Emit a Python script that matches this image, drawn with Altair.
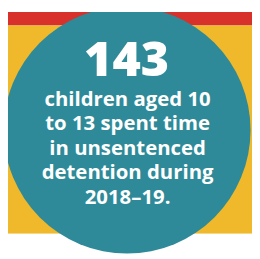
import altair as alt
import pandas as pd

# Layout bands (reference pixel coordinates, top = 0)
band_names = ["red", "yellow", "white"]
band_top = [0, 22, 237]
band_bottom = [22, 237, 259]
band_colors = ["#d8302a", "#efb92b", "#ffffff"]

# Circle
circle_cx = [131]
circle_cy = [130]
circle_r = [127.5]

# Texts
big_number = ["143"]
lines = ["children aged 10", "to 13 spent time", "in unsentenced",
         "detention during", "2018–19."]
line_baselines = [105, 130, 155.5, 180.5, 206]

W, H = 252, 251
xs = alt.Scale(domain=[8, 260], range=[0, W], nice=False, zero=False)
ys = alt.Scale(domain=[8, 259], range=[0, H], nice=False, zero=False)

bands = pd.DataFrame({"name": band_names, "top": band_top,
                      "bottom": band_bottom, "color": band_colors,
                      "x0": [0] * 3, "x1": [260] * 3})
rects = alt.Chart(bands).mark_rect(clip=True).encode(
    x=alt.X("x0:Q", scale=xs, axis=None),
    x2="x1:Q",
    y=alt.Y("top:Q", scale=ys, axis=None),
    y2="bottom:Q",
    color=alt.Color("color:N", scale=None, legend=None),
)

# Vega symbol size = area of bounding square = (2r)^2
circ = pd.DataFrame({"cx": circle_cx, "cy": circle_cy,
                     "size": [(2 * r) ** 2 for r in circle_r]})
circle = alt.Chart(circ).mark_circle(color="#2e8a98", opacity=1, clip=True).encode(
    x=alt.X("cx:Q", scale=xs, axis=None),
    y=alt.Y("cy:Q", scale=ys, axis=None),
    size=alt.Size("size:Q", scale=None, legend=None),
)

num = pd.DataFrame({"t": big_number, "x": [130.5], "y": [74]})
num_text = alt.Chart(num).mark_text(
    font="Open Sans", fontWeight=800, fontSize=50, color="white",
    align="center", baseline="alphabetic").encode(
    x=alt.X("x:Q", scale=xs, axis=None),
    y=alt.Y("y:Q", scale=ys, axis=None),
    text="t:N",
)

ld = pd.DataFrame({"t": lines, "x": [131.5] * len(lines), "y": line_baselines})
line_text = alt.Chart(ld).mark_text(
    font="Open Sans", fontWeight=700, fontSize=21, color="white",
    align="center", baseline="alphabetic").encode(
    x=alt.X("x:Q", scale=xs, axis=None),
    y=alt.Y("y:Q", scale=ys, axis=None),
    text="t:N",
)

chart = alt.layer(rects, circle, num_text, line_text).properties(
    width=W, height=H, padding=0,
    autosize=alt.AutoSizeParams(type="none"),
    background="white",
).configure_view(stroke=None)

chart.save("out.html", embed_options={"renderer": "svg", "actions": False})
